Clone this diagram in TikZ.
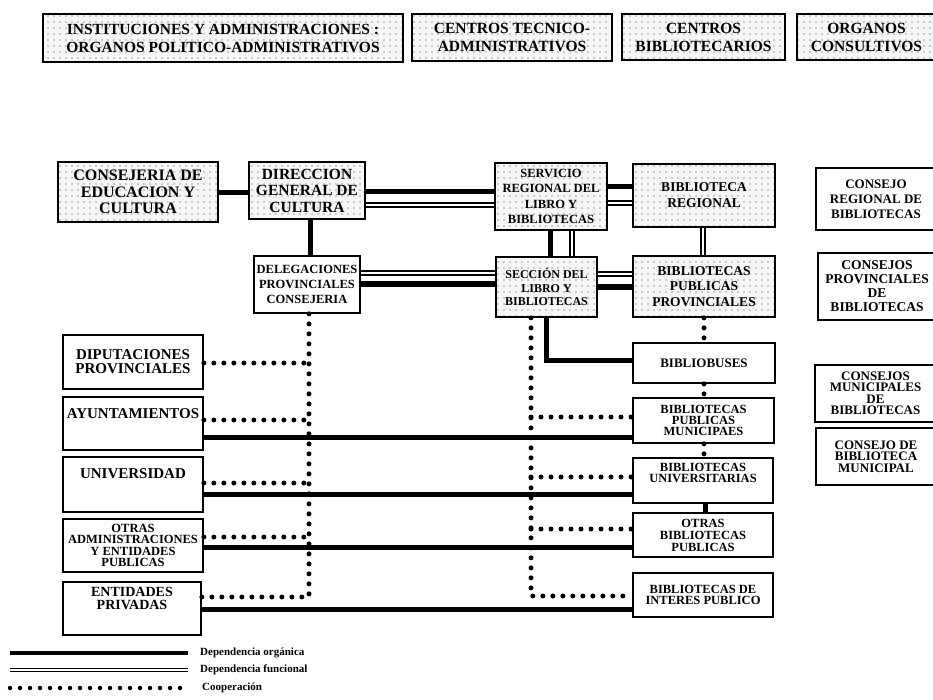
\documentclass[tikz,border=0pt]{standalone}
\usepackage{fontspec}
\setmainfont{Liberation Serif}
\usetikzlibrary{patterns.meta}
\newcommand\fz[2]{\fontsize{#1}{#2}\selectfont\bfseries}
\newcommand\mkbox[7]{\node[#1,minimum width={#4-#2},minimum height={#5-#3}] (#6) at ({(#2+#4)/2},{(#3+#5)/2}) {#7};}
\begin{document}
\begin{tikzpicture}[x=1pt,y=-1pt,
  bx/.style={draw,line width=1.7pt,align=center,inner sep=0pt,fill=white},
  stip/.style={draw,line width=1.7pt,align=center,inner sep=0pt,
    preaction={fill=gray!7},pattern={Dots[distance=6pt,radius=0.6pt]},pattern color=black!75},
  org/.style={line width=5pt},
  fun/.style={line width=1.3pt,double,double distance=2.6pt},
  coop/.style={line width=5pt,line cap=round,dash pattern=on 0pt off 10pt},
]
\useasboundingbox (0,0) rectangle (933,700);

% header
\mkbox{stip,font=\fz{15.5}{18}}{43}{14}{403}{62}{h1}{INSTITUCIONES Y ADMINISTRACIONES :\\ORGANOS POLITICO-ADMINISTRATIVOS}
\mkbox{stip,font=\fz{15.5}{18}}{412}{14}{612}{61}{h2}{CENTROS TECNICO-\\ADMINISTRATIVOS}
\mkbox{stip,font=\fz{15.5}{18}}{622}{14}{785}{60}{h3}{CENTROS\\BIBLIOTECARIOS}
\mkbox{stip,font=\fz{15.5}{18}}{797}{14}{936}{60}{h4}{ORGANOS\\CONSULTIVOS}

% upper boxes
\mkbox{stip,font=\fz{16}{16.5}}{58}{162}{218}{222}{cons}{CONSEJERIA DE\\EDUCACION Y\\CULTURA}
\mkbox{stip,font=\fz{15.5}{16.5}}{249}{162}{365}{219}{dir}{DIRECCION\\GENERAL DE\\CULTURA}
\mkbox{bx,font=\fz{12.5}{15}}{254}{256}{360}{313}{del}{DELEGACIONES\\PROVINCIALES\\CONSEJERIA}
\mkbox{stip,font=\fz{12.5}{15.5}}{495}{163}{607}{230}{serv}{SERVICIO\\REGIONAL DEL\\LIBRO Y\\BIBLIOTECAS}
\mkbox{stip,font=\fz{13.5}{16}}{633}{164}{775}{227}{breg}{BIBLIOTECA\\REGIONAL}
\mkbox{stip,font=\fz{12}{13.5}}{496}{257}{597}{317}{secc}{SECCIÓN DEL\\LIBRO Y\\BIBLIOTECAS}
\mkbox{stip,font=\fz{13.5}{15.5}}{633}{256}{775}{317}{bpp}{BIBLIOTECAS\\PUBLICAS\\PROVINCIALES}

% consultive organs
\mkbox{bx,font=\fz{13}{15}}{816}{168}{936}{230}{crb}{CONSEJO\\REGIONAL DE\\BIBLIOTECAS}
\mkbox{bx,font=\fz{13.5}{14}}{818}{253}{936}{320}{cpb}{CONSEJOS\\PROVINCIALES\\DE\\BIBLIOTECAS}
\mkbox{bx,font=\fz{13}{11.5}}{815}{365}{936}{422}{cmb}{CONSEJOS\\MUNICIPALES\\DE\\BIBLIOTECAS}
\mkbox{bx,font=\fz{13}{11.5}}{816}{428}{936}{485}{cbm}{CONSEJO DE\\BIBLIOTECA\\MUNICIPAL}

% libraries
\mkbox{bx,font=\fz{13}{14}}{633}{343}{775}{383}{bb}{BIBLIOBUSES}
\mkbox{bx,font=\fz{12.5}{11}}{633}{398}{774}{443}{bpm}{BIBLIOTECAS\\PUBLICAS\\MUNICIPAES}
\mkbox{bx,font=\fz{12.5}{11}}{633}{458}{773}{503}{bu}{BIBLIOTECAS\\UNIVERSITARIAS\\[4pt]}
\mkbox{bx,font=\fz{12.5}{12}}{633}{513}{773}{557}{obp}{OTRAS\\BIBLIOTECAS\\PUBLICAS}
\mkbox{bx,font=\fz{12.5}{11.5}}{633}{573}{773}{617}{bip}{BIBLIOTECAS DE\\INTERES PUBLICO}

% left institutions
\mkbox{bx,font=\fz{15}{14}}{63}{335}{203}{389}{dip}{DIPUTACIONES\\PROVINCIALES}
\mkbox{bx,font=\fz{15}{15}}{63}{397}{203}{450}{ayu}{AYUNTAMIENTOS\\[5pt]}
\mkbox{bx,font=\fz{15}{15}}{63}{457}{203}{512}{univ}{UNIVERSIDAD\\[6pt]}
\mkbox{bx,font=\fz{12.5}{11.5}}{63}{519}{203}{572}{otras}{OTRAS\\ADMINISTRACIONES\\Y ENTIDADES\\PUBLICAS}
\mkbox{bx,font=\fz{14}{13}}{63}{582}{201}{635}{ent}{ENTIDADES\\PRIVADAS\\[8pt]}

% organic dependence
\draw[org] (cons.east |- 0,193) -- (dir.west |- 0,193);
\draw[org] (dir.south -| 310,0) -- (del.north -| 310,0);
\draw[org] (dir.east |- 0,192) -- (serv.west |- 0,192);
\draw[org] (del.east |- 0,284) -- (secc.west |- 0,284);
\draw[org] (serv.east |- 0,187) -- (breg.west |- 0,187);
\draw[org] (serv.south -| 550,0) -- (secc.north -| 550,0);
\draw[org] (secc.east |- 0,287) -- (bpp.west |- 0,287);
\draw[org] (secc.south -| 546,0) |- (bb.west |- 0,360);
\draw[org] (bu.south -| 705,0) -- (obp.north -| 705,0);
\draw[org] (ayu.east |- 0,437) -- (bpm.west |- 0,437);
\draw[org] (univ.east |- 0,494) -- (bu.west |- 0,494);
\draw[org] (otras.east |- 0,547) -- (obp.west |- 0,547);
\draw[org] (ent.east |- 0,609) -- (bip.west |- 0,609);

% functional dependence
\draw[fun] (dir.east |- 0,205) -- (serv.west |- 0,205);
\draw[fun] (del.east |- 0,273) -- (secc.west |- 0,273);
\draw[fun] (serv.east |- 0,203) -- (breg.west |- 0,203);
\draw[fun] (serv.south -| 572,0) -- (secc.north -| 572,0);
\draw[fun] (breg.south -| 703,0) -- (bpp.north -| 703,0);
\draw[fun] (secc.east |- 0,274) -- (bpp.west |- 0,274);

% cooperation
\coordinate (vl) at (309,597);
\coordinate (vr) at (531,596);
\draw[coop] (bpp.south -| 704,0) -- (bb.north -| 704,0);
\draw[coop] (bb.south -| 704,0) -- (bpm.north -| 704,0);
\draw[coop] (bpm.south -| 704,0) -- (bu.north -| 704,0);
\draw[coop] (del.south -| vl) -- (vl);
\draw[coop] (secc.south -| vr) -- (vr) -- (bip.west |- vr);
\draw[coop] (dip.east |- 0,363) -- (vl |- 0,363);
\draw[coop] (ayu.east |- 0,420) -- (vl |- 0,420);
\draw[coop] (univ.east |- 0,483) -- (vl |- 0,483);
\draw[coop] (otras.east |- 0,537) -- (vl |- 0,537);
\draw[coop] (ent.east |- vl) -- (vl);
\draw[coop] (vr |- 0,417) -- (bpm.west |- 0,417);
\draw[coop] (vr |- 0,477) -- (bu.west |- 0,477);
\draw[coop] (vr |- 0,529) -- (obp.west |- 0,529);

% legend
\coordinate (l1a) at (10,653); \coordinate (l1b) at (188,653);
\coordinate (l2a) at (10,670); \coordinate (l2b) at (188,670);
\coordinate (l3a) at (10,688); \coordinate (l3b) at (188,688);
\draw[org,line width=4pt] (l1a) -- (l1b);
\draw[fun,line width=1pt,double distance=2.5pt] (l2a) -- (l2b);
\draw[coop,line width=4.5pt] (l3a) -- (l3b);
\node[anchor=west,inner sep=0pt,font=\fz{11}{12}] (t1) at (200,653) {Dependencia orgánica};
\node[anchor=west,inner sep=0pt,font=\fz{11}{12}] (t2) at (200,670) {Dependencia funcional};
\node[anchor=west,inner sep=0pt,font=\fz{11}{12}] (t3) at (202,688) {Cooperación};
\end{tikzpicture}
\end{document}
